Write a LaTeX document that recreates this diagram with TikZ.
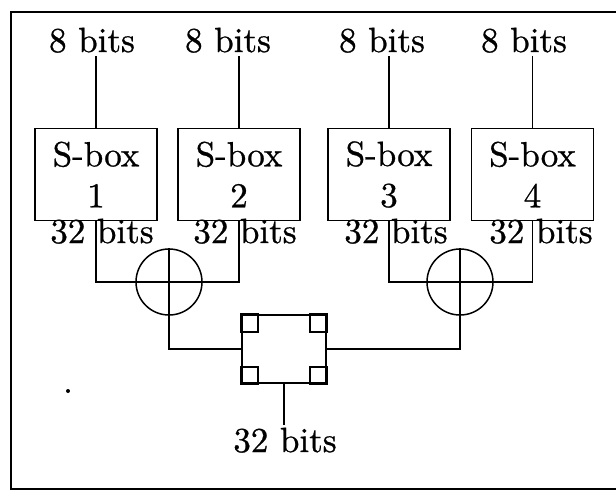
\documentclass[tikz,border=0pt]{standalone}
\usepackage{fontspec}
\usetikzlibrary{positioning}
\newfontfamily\lblfont{lmroman10-regular.otf}[FakeBold=0.8]
\newcommand{\lblsize}{\lblfont\fontsize{35}{41}\selectfont}
\begin{document}
\begin{tikzpicture}[x=1pt, y=-1pt, line width=1.5pt,
    sbox/.style={draw, line width=1.8pt, minimum width=122pt, minimum height=92pt,
      align=center, inner sep=0pt, font=\lblsize},
    xorc/.style={draw, circle, minimum size=66pt, inner sep=0pt},
    lbl/.style={font=\lblsize, anchor=base, inner sep=2pt}]
  \useasboundingbox (0,0) rectangle (616,491);
  % frame (right side runs off the page)
  \draw[line width=1.8pt] (630,12) -- (11,12) -- (11,489) -- (630,489);
  % input labels
  \node[lbl] (in1) at (92,52) {8 bits};
  \node[lbl] (in2) at (228,52) {8 bits};
  \node[lbl] (in3) at (382,52) {8 bits};
  \node[lbl] (in4) at (524,52) {8 bits};
  % S-boxes
  \node[sbox] (sb1) at (96,174.5) {S-box\\1};
  \node[sbox] (sb2) at (239,174.5) {S-box\\2};
  \node[sbox] (sb3) at (389,174.5) {S-box\\3};
  \node[sbox] (sb4) at (532.5,174.5) {S-box\\4};
  % output widths of the S-boxes
  \node[lbl] (w1) at (102,243) {32 bits};
  \node[lbl] (w2) at (245,243) {32 bits};
  \node[lbl] (w3) at (396,243) {32 bits};
  \node[lbl] (w4) at (541,243) {32 bits};
  % xor circles
  \node[xorc] (x12) at (169,282) {};
  \node[xorc] (x34) at (460,282) {};
  \draw (x12.north) -- (x12.south) (x12.west) -- (x12.east);
  \draw (x34.north) -- (x34.south) (x34.west) -- (x34.east);
  % combining box with corner squares
  \node[draw, line width=1.8pt, minimum width=84pt, minimum height=68pt] (mix) at (284,349) {};
  \draw[line width=1.8pt] (mix.north west) rectangle ++(17,18);
  \draw[line width=1.8pt] (mix.north east) rectangle ++(-17,18);
  \draw[line width=1.8pt] (mix.south west) rectangle ++(17,-17);
  \draw[line width=1.8pt] (mix.south east) rectangle ++(-17,-17);
  % output label
  \node[lbl] (out) at (285,452) {32 bits};
  % connectors
  \foreach \i in {1,...,4}
    \draw (sb\i.north) -- (sb\i.north |- in\i.south);
  \draw (sb1.south) |- (x12.west);
  \draw (sb2.south) |- (x12.east);
  \draw (sb3.south) |- (x34.west);
  \draw (sb4.south) |- (x34.east);
  \draw (x12.south) |- (mix.west);
  \draw (x34.south) |- (mix.east);
  \draw (mix.south) -- (mix.south |- out.north);
  % stray dot
  \fill (68,391) circle (2);
\end{tikzpicture}
\end{document}
